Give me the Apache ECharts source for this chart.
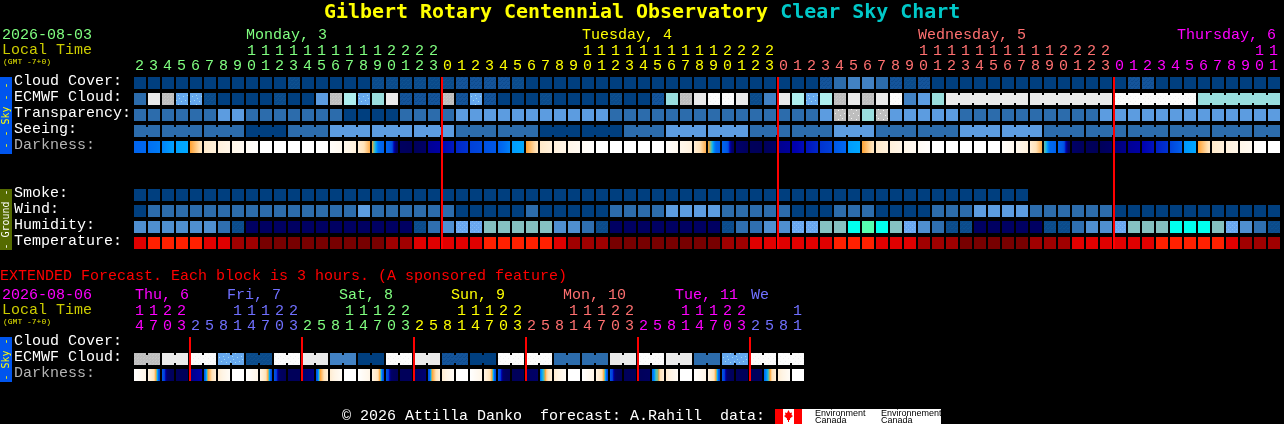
<!DOCTYPE html>
<html><head><meta charset="utf-8">
<style>html,body{margin:0;padding:0;background:#000}#c{width:1284px;height:424px}</style>
<script src="https://cdn.jsdelivr.net/npm/echarts@6/dist/echarts.min.js"></script>
</head><body><div id="c"></div>
<script>
// ---------- data ----------
const hours = [2,3,4,5,6,7,8,9,10,11,12,13,14,15,16,17,18,19,20,21,22,23,0,1,2,3,4,5,6,7,8,9,10,11,12,13,14,15,16,17,18,19,20,21,22,23,0,1,2,3,4,5,6,7,8,9,10,11,12,13,14,15,16,17,18,19,20,21,22,23,0,1,2,3,4,5,6,7,8,9,10,11];
const hourDays = [0,0,0,0,0,0,0,0,0,0,0,0,0,0,0,0,0,0,0,0,0,0,1,1,1,1,1,1,1,1,1,1,1,1,1,1,1,1,1,1,1,1,1,1,1,1,2,2,2,2,2,2,2,2,2,2,2,2,2,2,2,2,2,2,2,2,2,2,2,2,3,3,3,3,3,3,3,3,3,3,3,3];
const midnights = [22,46,70];
const rowNames = ['Cloud Cover:','ECMWF Cloud:','Transparency:','Seeing:','Darkness:','','','Smoke:','Wind:','Humidity:','Temperature:'];

const cloudCover = [0,0,0,0,0,0,0,0,0,0,0,1,0,0,0,0,0,1,1,1,1,1,1,2,2,2,2,1,0,0,0,0,0,0,0,0,0,0,0,0,0,0,0,0,0,0,0,0,0,2,3,4,4,3,2,1,2,0,0,0,0,0,0,0,0,0,0,0,0,0,0,2,2,0,0,0,0,0,0,0,0,0];
const ecmwfCloud = [3,10,9,6,6,1,0,0,0,0,1,0,0,5,9,8,6,7,10,2,2,2,9,2,6,2,0,0,0,1,0,0,0,0,1,0,0,2,7,9,10,11,11,10,1,4,10,8,6,8,9,10,9,10,11,4,5,7,10,10,10,10,10,10,10,10,10,10,10,10,11,11,11,11,11,11,7,7,7,7,7,7];
const ecmwfRuns = [1,1,1,1,1,1,1,1,1,1,1,1,1,1,1,1,1,1,1,1,1,1,1,1,1,1,1,1,1,1,1,1,1,1,1,1,1,1,1,1,1,1,1,1,1,1,1,1,1,1,1,1,1,1,1,1,1,1,6,6,6,6];
const transparency = [3,3,3,3,3,3,5,5,3,3,3,3,3,3,3,0,0,0,0,3,3,3,3,5,5,5,5,5,5,5,5,5,5,5,3,3,3,3,3,3,3,3,3,3,3,3,3,3,3,5,12,12,7,12,5,5,5,5,5,3,3,3,3,3,3,3,3,3,3,5,5,5,5,5,5,5,5,5,5,5,5,5];
const seeing = [3,3,3,3,3,3,3,3,0,0,0,3,3,3,5,5,5,5,5,5,5,5,5,3,3,3,3,3,3,0,0,0,0,0,0,3,3,3,5,5,5,5,5,5,3,3,3,3,3,3,5,5,5,3,3,3,3,3,3,5,5,5,5,5,5,3,3,3,3,3,3,3,3,3,3,3,3,3,3,3,3,3];
const seeingRuns = [2,3,3,3,3,3,3,3,3,3,3,3,3,3,3,3,3,3,3,3,3,3,3,3,3,3,3,2];
const darkness = [[6.1,6],[5.9,5.7],[5.6,5.1],[5.1,5],[3,1.8],[1.6,1.2],[1.2,.9],[.8,.5],[.4,.1],[0,0],[0,0],[0,0],[0,0],[0,0],[.2,.6],[.7,1.2],[1.3,1.7,2,2.4,2.8],[3,4,5,5.8,6,6.1,6.2],[6.1,6.2,6.3,6.6,8,9,9.4],[9.4,9.6],[9.6,9.2],
[8.4,8.2],[7.9,7.6],[7.4,7.2],[7,6.8],[6.6,6.4],[6.2,5.6],[5.2,5],[3,1.8],[1.6,1.2],[1.2,.9],[.8,.5],[.4,.1],[0,0],[0,0],[0,0],[0,0],[0,0],[.2,.6],[.7,1.2],[1.3,1.7,2,2.4,2.8],[3,3.5,4.5,5.5,6,6.1,6.2],[6.1,6.2,6.3,6.6,8,9,9.2],[9,9.5],[9.6,9.7],[9.6,9.2],
[8.5,8.3],[8.1,7.8],[7.7,7.4],[7.2,7],[6.4,6],[5.2,5],[3,1.8],[1.6,1.2],[1.2,.9],[.8,.5],[.4,.1],[0,0],[0,0],[0,0],[0,0],[0,0],[.2,.6],[.7,1.2],[1.3,1.7,2,2.4,2.8],[4,4.5,5.5,6,6,6.1,6.2],[6.1,6.2,6.3,6.6,8,9,9.4],[9.2,9.5],[9.6,9.7],[9.6,9.2],[8.8,8.5],[8.4,8.2],[8,7.7],[7.5,7.2],[6.9,6.2],[5.3,5],[3,1.8],[1.6,1.2],[1.2,.9],[.8,.5],[.2,0],[0,0]];
const smoke = [0,0,0,0,0,0,0,0,0,0,0,0,0,0,0,0,0,0,0,0,0,0,0,0,0,0,0,0,0,0,0,0,0,0,0,0,0,0,0,0,0,0,0,0,0,0,0,0,0,0,0,0,0,0,0,0,0,0,0,0,0,0,0,0];
const wind = [0,3,3,3,3,3,3,3,3,3,3,3,3,3,3,3,5,3,3,3,3,3,3,0,0,0,0,0,3,0,0,0,0,0,3,3,3,3,5,5,5,5,3,3,3,3,3,0,0,0,3,3,3,0,0,0,0,3,3,3,5,5,5,5,3,3,3,3,3,3,0,0,0,0,0,0,0,0,0,0,0,0];
const humidity = [3,3,3,3,3,3,2,1,0,0,0,0,0,0,0,0,0,0,0,0,1,2,3,4,4,5,5,5,5,5,3,3,2,1,0,0,0,0,0,0,0,0,1,2,2,3,3,4,4,5,5,6,7,6,5,4,3,2,1,1,0,0,0,0,0,1,1,2,3,3,4,5,5,5,6,6,6,5,4,3,2,1];
const temperature = [2,3,3,3,3,2,2,1,1,0,0,0,0,0,0,0,0,0,1,1,2,2,2,2,2,3,3,3,3,3,2,1,1,1,0,0,0,0,0,0,0,0,1,1,2,2,2,2,2,2,3,3,3,2,2,2,1,1,1,0,0,0,0,0,1,1,1,2,2,2,2,2,2,3,3,3,3,3,2,1,1,1];

const extHours = [14,17,20,23,2,5,8,11,14,17,20,23,2,5,8,11,14,17,20,23,2,5,8,11,14,17,20,23,2,5,8,11,14,17,20,23,2,5,8,11,14,17,20,23,2,5,8,11];
const extHourDays = [3,3,3,3,4,4,4,4,4,4,4,4,0,0,0,0,0,0,0,0,1,1,1,1,1,1,1,1,2,2,2,2,2,2,2,2,3,3,3,3,3,3,3,3,4,4,4,4];
const extMidnights = [4,12,20,28,36,44];
const extRowNames = ['Cloud Cover:','ECMWF Cloud:','Darkness:'];
const extEcmwf = [9,9,10,10,11,11,6,6,1,1,11,11,10,10,4,4,0,0,11,11,10,10,2,2,0,0,11,11,11,11,3,3,3,3,10,10,11,11,10,10,3,3,6,6,11,11,11,11];
const extRuns = [2,2,2,2,2,2,2,2,2,2,2,2,2,2,2,2,2,2,2,2,2,2,2,2];
const extDarkness = [[0,.9],[1,1.3,1.6,2,3,5.8,7],[6.5,7,9,9.4,9.5,9.6],[9.6,9.6],[8.6,8],[6.5,5.5,3,2.5,2,1.6,1.2],[1.4,.3],[0,0],
[0,.9],[1,1.3,1.6,2,3,5.8,7],[6.5,7,9,9.4,9.5,9.6],[9.6,9.6],[9,8.6],[6.6,5.8,3,2.5,2,1.6,1.2],[1.4,.3],[0,0],
[0,.9],[1,1.3,1.6,2,3,5.8,7],[6.5,7,9,9.4,9.5,9.6],[9.6,9.6],[9.2,8.9],[6.6,6,3,2.5,2,1.6,1.2],[1.4,.3],[0,0],
[0,.9],[1,1.3,1.6,2,3,5.8,7],[6.5,7,9,9.4,9.5,9.6],[9.6,9.6],[9.4,9.1],[6,5,4,2.5,2,1.6,1.2],[1.4,.3],[0,0],
[0,.9],[1,1.3,1.6,2,3,5.8,7],[6.5,7,9,9.4,9.5,9.6],[9.6,9.6],[9.6,9.4],[6,5.5,4,3.8,2,1.6,1.2],[1.4,.3],[0,0],
[0,.9],[1,1.3,1.6,2,3,5.8,7],[6.5,7,9,9.4,9.5,9.6],[9.6,9.6],[9.6,9.4],[6,5.5,4.5,3,2,1.6,1.2],[1.4,.3],[0,0]];

const dayLabels = [['Monday, 3',8,0],['Tuesday, 4',32,1],['Wednesday, 5',56,2],['Thursday, 6',74.5,3]];
const extDayLabels = [['Thu, 6',0.07,3],['Fri, 7',6.64,4],['Sat, 8',14.64,0],['Sun, 9',22.64,1],['Mon, 10',30.64,2],['Tue, 11',38.64,3],['We',44.07,4]];

// ---------- styling ----------
const FONT = '"Liberation Mono",monospace';
const dayColors = ['#80ff80','#ffff00','#ff7070','#ff00ff','#7070ff'];

function speckle(base, speck, w, pts) {
  const c = document.createElement('canvas'); c.width = c.height = w;
  const g = c.getContext('2d'); g.fillStyle = base; g.fillRect(0,0,w,w);
  g.fillStyle = speck; pts.forEach(p => g.fillRect(p[0],p[1],1,1));
  return {image:c, repeat:'repeat'};
}
const skyPalette = [
  '#003f7f',
  speckle('#0a4a8a','#0f5290',4,[[0,0],[2,2],[3,0],[1,3]]),
  speckle('#14549a','#0e4a8c',4,[[0,1],[2,3],[3,1],[1,0]]),
  '#2c6cac','#4282c4','#5c9ce0',
  speckle('#66a8ee','#9fdcf0',9,[[1,2],[5,1],[7,5],[3,6],[8,8]]),
  '#99dddd','#aeeeee',
  speckle('#bebebe','#c8c8c8',3,[[0,0],[2,1]]),
  '#eaeaea',
  speckle('#fbfbfb','#eeeeee',5,[[0,1],[3,3]]),
  speckle('#bebebe','#f4f4f4',9,[[1,2],[5,1],[7,5],[3,7]])
];
const humPalette = ['#000062',
  speckle('#0c4a8a','#0a5294',4,[[0,0],[2,2],[3,0],[1,3]]),
  '#2f6fb0','#4f8fd0',
  speckle('#6aa8f0','#80b8f4',4,[[0,1],[2,3]]),
  '#85c1c1','#00ffee','#55ffb0'];
const tempPalette = ['#780000','#a00000','#e00000','#ff2000'];
const ramp = [[255,255,255],[255,244,228],[255,226,184],[255,160,48],[92,192,168],[0,168,255],[0,104,240],[0,64,216],[0,0,176],[0,0,106],[0,0,80]];
function rampColor(v){
  const a = Math.max(0,Math.min(9,Math.floor(v))), f = v-a, A = ramp[a], B = ramp[a+1];
  return 'rgb('+A.map((x,k)=>Math.round(x+(B[k]-x)*f)).join(',')+')';
}
function runJoins(runs){
  const j = {}; let s = 0;
  runs.forEach(r => { for(let k=0;k<r-1;k++) j[s+k]=true; s+=r; });
  return j;
}
const CELL_GAP = 2, ROW_GAP = 4, NOTCH = 2;
function cells(name, row, values, palette, runs, axis){
  const joins = runs ? runJoins(runs) : {};
  return {
    type:'custom', name, xAxisIndex:axis.x, yAxisIndex:axis.y, clip:false, silent:true, z:2,
    data: values.map((v,i)=>[i,row,v]),
    encode:{x:0,y:1},
    renderItem(p,api){
      const i = api.value(0), c = api.coord([i,api.value(1)]), s = api.size([1,1]);
      const x = c[0]-s[0]/2, y = c[1]-s[1]/2, w = s[0]-CELL_GAP, h = s[1]-ROW_GAP;
      const fill = palette[api.value(2)];
      const kids = [{type:'rect',shape:{x,y,width:w,height:h},style:{fill}}];
      if (joins[i]) kids.push({type:'rect',shape:{x:x+w,y:y+NOTCH,width:CELL_GAP,height:h-2*NOTCH},style:{fill}});
      return {type:'group',children:kids};
    }
  };
}
function darkCells(name,row,samples,axis){
  return {
    type:'custom', name, xAxisIndex:axis.x, yAxisIndex:axis.y, clip:false, silent:true, z:2,
    data: samples.map((v,i)=>[i,row]),
    encode:{x:0,y:1},
    renderItem(p,api){
      const i = api.value(0), c = api.coord([i,api.value(1)]), s = api.size([1,1]);
      const v = samples[i], stops = [], n = v.length-1;
      for(let q=0;q<n;q++) for(let k=0;k<=8;k++)
        stops.push({offset:(q+k/8)/n,color:rampColor(v[q]+(v[q+1]-v[q])*k/8)});
      return {type:'rect',shape:{x:c[0]-s[0]/2,y:c[1]-s[1]/2,width:s[0]-CELL_GAP,height:s[1]-ROW_GAP},
        style:{fill:{type:'linear',x:0,y:0,x2:1,y2:0,colorStops:stops}}};
    }
  };
}
function redLines(idx,top,last,axis){
  return {
    type:'custom', xAxisIndex:axis.x, yAxisIndex:axis.y, clip:false, silent:true, z:5,
    data: idx.map(i=>[i,top]),
    encode:{x:0,y:1},
    renderItem(p,api){
      const a = api.coord([api.value(0),top]), b = api.coord([api.value(0),last]), s = api.size([1,1]);
      return {type:'rect',shape:{x:a[0]-s[0]/2-1,y:a[1]-s[1]/2,width:2,height:b[1]-a[1]+s[1]-ROW_GAP},style:{fill:'#ff0000'}};
    }
  };
}
function dayText(labels,axis,row,dy){
  return {
    type:'custom', xAxisIndex:axis.x, yAxisIndex:axis.y, clip:false, silent:true, z:3,
    data: labels.map((l,i)=>[Math.floor(l[1]),row,i]),
    encode:{x:0,y:1},
    renderItem(p,api){
      const l = labels[api.value(2)], v = l[1], base = Math.floor(v), f = v-base;
      const c = api.coord([base,row]), s = api.size([1,1]);
      return {type:'text',style:{x:c[0]-s[0]/2+f*s[0],y:c[1]-s[1]/2+dy,text:l[0],fill:dayColors[l[2]],
        font:'15px '+FONT,align:'left',verticalAlign:'middle'}};
    }
  };
}
function xAxes(grid,labels,days,offset,tens){
  return {
    type:'category', gridIndex:grid, position:'top', offset, data:labels.map(h=>tens?(h>=10?String(Math.floor(h/10)):' '):String(h%10)),
    axisLine:{show:false}, axisTick:{show:false}, splitLine:{show:false}, boundaryGap:true,
    axisLabel:{interval:0, margin:3, padding:[0,3,0,0], fontFamily:FONT, fontSize:15, hideOverlap:false,
      color:(v,i)=>dayColors[days[i]]}
  };
}
function yAx(grid,names){
  return {
    type:'category', gridIndex:grid, inverse:true, data:names,
    axisLine:{show:false}, axisTick:{show:false}, splitLine:{show:false},
    axisLabel:{interval:0, margin:120, align:'left', verticalAlign:'bottom', lineHeight:8, fontFamily:FONT, fontSize:15,
      color:v=>v==='Darkness:'?'#b4b4b4':'#ffffff'}
  };
}
function txt(x,y,text,fill,size,extra){
  return Object.assign({type:'text',x,y,silent:true,style:{text,fill,font:(size||15)+'px '+FONT,verticalAlign:'middle'}},extra||{});
}
function sideBar(y,h,fill,text,color){
  return [
    {type:'rect',silent:true,shape:{x:0,y,width:12,height:h},style:{fill}},
    {type:'text',silent:true,rotation:Math.PI/2,x:6,y:y+h/2,style:{text,fill:color,font:'10px "DejaVu Sans Mono",monospace',align:'center',verticalAlign:'middle'}}
  ];
}
const MAIN={x:0,y:0}, EXT={x:2,y:1};
const chart = echarts.init(document.getElementById('c'),null,{renderer:'canvas',width:1284,height:424});
chart.setOption({
  backgroundColor:'#000000', animation:false, tooltip:{show:false},
  title:{left:324,top:1,padding:0,text:'{a|Gilbert Rotary Centennial Observatory }{b|Clear Sky Chart}',
    textStyle:{rich:{
      a:{fontFamily:'"DejaVu Sans Mono"',fontSize:19.95,fontWeight:'bold',color:'#ffff00',lineHeight:24},
      b:{fontFamily:'"DejaVu Sans Mono"',fontSize:19.95,fontWeight:'bold',color:'#00c8c8',lineHeight:24}}}},
  grid:[
    {left:134,top:77,width:1148,height:176,containLabel:false},
    {left:134,top:337,width:672,height:48,containLabel:false}
  ],
  xAxis:[
    xAxes(0,hours,hourDays,0,false), xAxes(0,hours,hourDays,15,true),
    xAxes(1,extHours,extHourDays,0,false), xAxes(1,extHours,extHourDays,15,true)
  ],
  yAxis:[yAx(0,rowNames),yAx(1,extRowNames)],
  series:[
    cells('Cloud Cover',0,cloudCover,skyPalette,null,MAIN),
    cells('ECMWF Cloud',1,ecmwfCloud,skyPalette,ecmwfRuns,MAIN),
    cells('Transparency',2,transparency,skyPalette,null,MAIN),
    cells('Seeing',3,seeing,skyPalette,seeingRuns,MAIN),
    darkCells('Darkness',4,darkness,MAIN),
    cells('Smoke',7,smoke,skyPalette,null,MAIN),
    cells('Wind',8,wind,skyPalette,null,MAIN),
    cells('Humidity',9,humidity,humPalette,null,MAIN),
    cells('Temperature',10,temperature,tempPalette,null,MAIN),
    redLines(midnights,0,10,MAIN),
    dayText(dayLabels,MAIN,0,-42),
    cells('Ext ECMWF',1,extEcmwf,skyPalette,extRuns,EXT),
    darkCells('Ext Darkness',2,extDarkness,EXT),
    redLines(extMidnights,0,2,EXT),
    dayText(extDayLabels,EXT,0,-42)
  ],
  graphic:[
    txt(2,35,'2026-08-03','#80ff80'),
    txt(2,50,'Local Time','#cccc00'),
    txt(3,62,'(GMT -7+0)','#e6e600',8),
    txt(0,276,'EXTENDED Forecast. Each block is 3 hours. (A sponsored feature)','#ff0000'),
    txt(2,295,'2026-08-06','#ff00ff'),
    txt(2,310,'Local Time','#cccc00'),
    txt(3,322,'(GMT -7+0)','#e6e600',8),
    ...sideBar(77,77,'#0055ee','- - Sky - -','#ffff00'),
    ...sideBar(189,61,'#556b00','- Ground -','#ffffff'),
    ...sideBar(337,45,'#0055ee','- Sky -','#ffff00'),
    txt(342,416,'© 2026 Attilla Danko  forecast: A.Rahill  data:','#ffffff'),
    {type:'rect',silent:true,shape:{x:775,y:409,width:166,height:15},style:{fill:'#ffffff'}},
    {type:'rect',silent:true,shape:{x:775,y:409,width:8,height:15},style:{fill:'#ff0000'}},
    {type:'rect',silent:true,shape:{x:794,y:409,width:8,height:15},style:{fill:'#ff0000'}},
    {type:'polygon',silent:true,shape:{points:[[788.5,410],[790,413],[792,412.5],[791.5,415],[793,416],[790,418.5],[790,420],[789,420],[789,422],[788,422],[788,420],[787,420],[787,418.5],[784,416],[785.5,415],[785,412.5],[787,413]]},style:{fill:'#ff0000'}},
    {type:'text',silent:true,x:815,y:413.5,style:{text:'Environment',fill:'#000',font:'9px "Liberation Sans"',verticalAlign:'middle'}},
    {type:'text',silent:true,x:815,y:420.5,style:{text:'Canada',fill:'#000',font:'9px "Liberation Sans"',verticalAlign:'middle'}},
    {type:'text',silent:true,x:881,y:413.5,style:{text:'Environnement',fill:'#000',font:'9px "Liberation Sans"',verticalAlign:'middle'}},
    {type:'text',silent:true,x:881,y:420.5,style:{text:'Canada',fill:'#000',font:'9px "Liberation Sans"',verticalAlign:'middle'}}
  ]
});
</script></body></html>
